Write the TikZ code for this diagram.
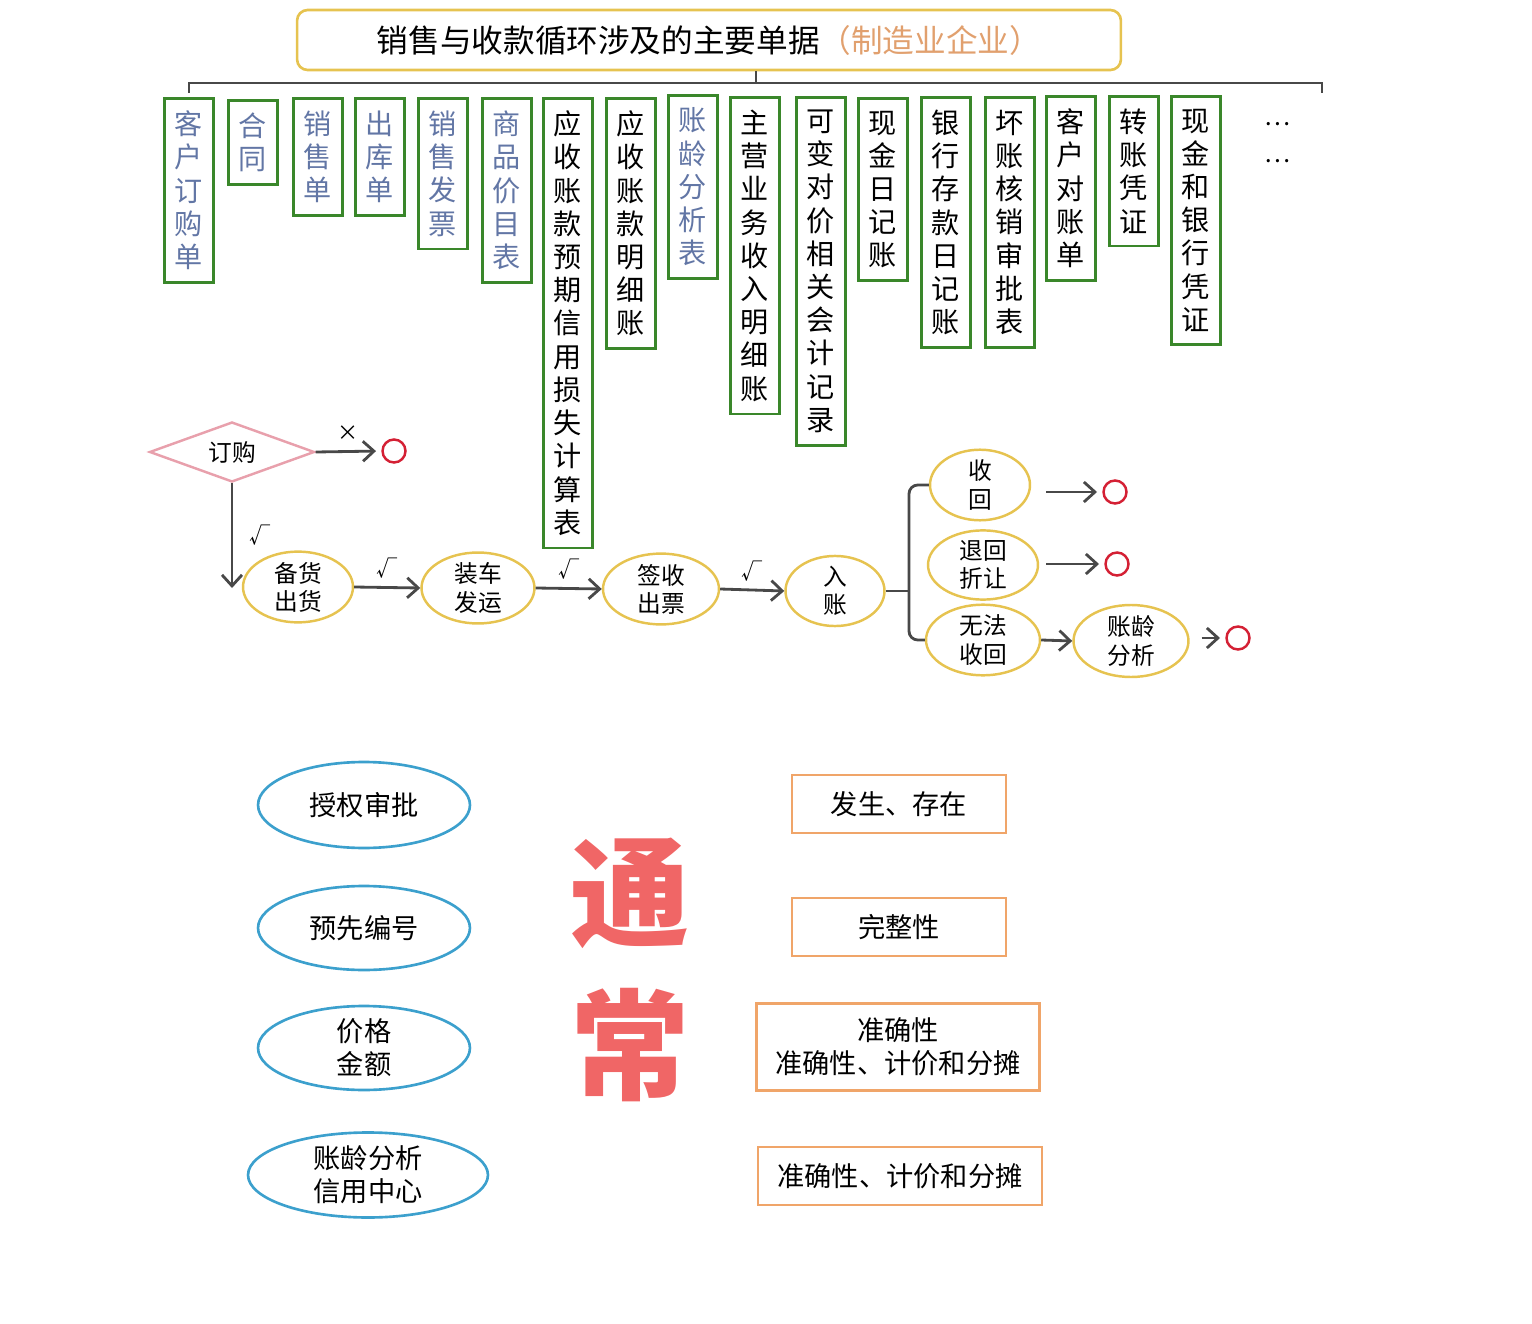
\documentclass[tikz,border=0pt]{standalone}
\usepackage{fontspec}
\setmainfont{Noto Sans CJK SC}
\usetikzlibrary{shapes.geometric, arrows.meta}

\definecolor{docgreen}{RGB}{58,135,42}
\definecolor{docblue}{RGB}{98,118,165}
\definecolor{flowgold}{RGB}{230,195,80}
\definecolor{diapink}{RGB}{232,160,172}
\definecolor{endred}{RGB}{212,32,52}
\definecolor{linegray}{RGB}{72,72,72}
\definecolor{ctrlblue}{RGB}{60,160,205}
\definecolor{assertorange}{RGB}{240,165,105}
\definecolor{titleorange}{RGB}{225,160,110}
\definecolor{bigred}{RGB}{240,102,102}

\tikzset{
	doc/.style={draw=docgreen, line width=1.6pt, anchor=north, align=center,
		minimum width=0.98cm, inner xsep=0pt, inner ysep=0.25cm,
		font=\fontsize{16}{18.9}\selectfont},
	docb/.style={doc, text=docblue},
	flow/.style={ellipse, draw=flowgold, line width=1.4pt, align=center,
		inner sep=0pt, font=\fontsize{13.5}{16}\selectfont},
	endpt/.style={circle, draw=endred, line width=1.4pt, minimum size=0.46cm, inner sep=0pt},
	conn/.style={draw=linegray, line width=1.6pt},
	arr/.style={conn, -{Straight Barb[length=2.2mm,width=4mm]}},
	ctrl/.style={ellipse, draw=ctrlblue, line width=1.5pt, align=center,
		inner sep=0pt, font=\fontsize{15.5}{18.8}\selectfont},
	assert/.style={draw=assertorange, line width=1.3pt, align=center,
		inner sep=0pt, font=\fontsize{15.5}{18.8}\selectfont},
	tickmark/.style={font=\fontsize{12}{14}\selectfont, text=black}
}

\begin{document}
\begin{tikzpicture}[x=0.02cm, y=-0.02cm]
	\useasboundingbox (0,0) rectangle (1532,1324);

	% title and bracket
	\node[draw=flowgold, line width=1.5pt, rounded corners=6pt, minimum width=16.48cm,
		minimum height=1.2cm, font=\fontsize{18}{20}\selectfont] (title) at (709,40)
		{销售与收款循环涉及的主要单据\textcolor{titleorange}{（制造业企业）}};
	\coordinate (barL) at (189,83);
	\coordinate (barR) at (1322,83);
	\coordinate (tick) at (756,83);
	\draw[conn] (title.south -| tick) -- (tick);
	\draw[conn] (189,93) -- (barL) -- (barR) -- (1322,93);

	% documents
	\node[docb] (c1) at (189,97) {客\\户\\订\\购\\单};
	\node[docb] (c2) at (253,99) {合\\同};
	\node[docb] (c3) at (318,97) {销\\售\\单};
	\node[docb] (c4) at (380,97) {出\\库\\单};
	\node[docb] (c5) at (443,97) {销\\售\\发\\票};
	\node[docb] (c6) at (507,97) {商\\品\\价\\目\\表};
	\node[doc] (c7) at (568,97) {应\\收\\账\\款\\预\\期\\信\\用\\损\\失\\计\\算\\表};
	\node[doc] (c8) at (631,97) {应\\收\\账\\款\\明\\细\\账};
	\node[docb] (c9) at (693,94) {账\\龄\\分\\析\\表};
	\node[doc] (c10) at (755,96) {主\\营\\业\\务\\收\\入\\明\\细\\账};
	\node[doc] (c11) at (821,96) {可\\变\\对\\价\\相\\关\\会\\计\\记\\录};
	\node[doc] (c12) at (883,97) {现\\金\\日\\记\\账};
	\node[doc] (c13) at (946,96) {银\\行\\存\\款\\日\\记\\账};
	\node[doc] (c14) at (1010,96) {坏\\账\\核\\销\\审\\批\\表};
	\node[doc] (c15) at (1071,95) {客\\户\\对\\账\\单};
	\node[doc] (c16) at (1134,95) {转\\账\\凭\\证};
	\node[doc] (c17) at (1196,95) {现\\金\\和\\银\\行\\凭\\证};
	\node[font=\fontsize{14}{16}\selectfont] (more1) at (1278,124) {…};
	\node[font=\fontsize{14}{16}\selectfont] (more2) at (1278,161) {…};

	% flow
	\node[diamond, draw=diapink, line width=1.4pt, aspect=2.75, minimum width=3.3cm,
		minimum height=1.2cm, inner sep=0pt, font=\fontsize{13.5}{16}\selectfont] (order) at (232,452) {订购};
	\node[endpt] (end1) at (394,451) {};
	\node[flow, minimum width=2.2cm, minimum height=1.32cm] (bh) at (298,587) {备货\\出货};
	\node[flow, minimum width=2.26cm, minimum height=1.34cm] (zc) at (478,588) {装车\\发运};
	\node[flow, minimum width=2.32cm, minimum height=1.38cm] (qs) at (661,589) {签收\\出票};
	\node[flow, minimum width=1.98cm, minimum height=1.24cm] (rz) at (835,591) {入\\账};
	\node[flow, minimum width=2cm, minimum height=1.24cm] (sh) at (980,485) {收\\回};
	\node[flow, minimum width=2.2cm, minimum height=1.32cm] (th) at (983,565) {退回\\折让};
	\node[flow, minimum width=2.28cm, minimum height=1.38cm] (wf) at (983,640) {无法\\收回};
	\node[flow, minimum width=2.3cm, minimum height=1.44cm] (zl) at (1131,641) {账龄\\分析};
	\node[endpt] (end2) at (1115,492) {};
	\node[endpt] (end3) at (1117,564) {};
	\node[endpt] (end4) at (1238,638) {};
	\coordinate (down) at (232,588);
	\coordinate (brx) at (909,0);

	\draw[arr, shorten >=3pt] (order.east) -- (end1.west) node[tickmark, midway, above=2pt]{×};
	\draw[arr] (order.south) -- (down) node[tickmark, midway, right=6pt]{√};
	\draw[arr] (bh.east) -- (zc.west) node[tickmark, midway, above=1pt]{√};
	\draw[arr] (zc.east) -- (qs.west) node[tickmark, midway, above=1pt]{√};
	\draw[arr] (qs.east) -- (rz.west) node[tickmark, midway, above=1pt]{√};
	\draw[conn, rounded corners=5pt] (sh.west) -- (brx |- sh.west) -- (brx |- wf.west) -- (wf.west);
	\draw[conn] (rz.east) -- (rz.east -| brx);
	\draw[arr, shorten <=0.3cm, shorten >=3pt] (sh.east |- end2) -- (end2.west);
	\draw[arr, shorten <=0.14cm, shorten >=3pt] (th.east |- end3) -- (end3.west);
	\draw[arr] (wf.east) -- (zl.west);
	\draw[arr, shorten <=0.24cm, shorten >=3pt] (zl.east |- end4) -- (end4.west);

	% controls and assertions
	\node[ctrl, minimum width=4.24cm, minimum height=1.72cm] (a1) at (364,805) {授权审批};
	\node[ctrl, minimum width=4.24cm, minimum height=1.68cm] (a2) at (364,928) {预先编号};
	\node[ctrl, minimum width=4.24cm, minimum height=1.68cm] (a3) at (364,1048) {价格\\金额};
	\node[ctrl, minimum width=4.8cm, minimum height=1.7cm] (a4) at (368,1175) {账龄分析\\信用中心};
	\node[text=bigred, font=\fontsize{68}{70}\selectfont\bfseries] (big1) at (630,893) {通};
	\node[text=bigred, font=\fontsize{68}{70}\selectfont\bfseries] (big2) at (630,1045) {常};
	\node[assert, minimum width=4.28cm, minimum height=1.16cm] (b1) at (899,804) {发生、存在};
	\node[assert, minimum width=4.28cm, minimum height=1.16cm] (b2) at (899,927) {完整性};
	\node[assert, minimum width=5.66cm, minimum height=1.74cm] (b3) at (898,1047) {准确性\\准确性、计价和分摊};
	\node[assert, minimum width=5.68cm, minimum height=1.16cm] (b4) at (900,1176) {准确性、计价和分摊};
\end{tikzpicture}
\end{document}
